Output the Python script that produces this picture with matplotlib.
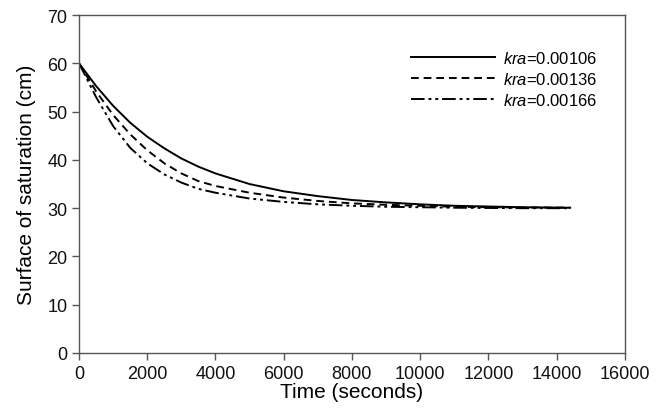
import numpy as np
import matplotlib
matplotlib.use("Agg")
import matplotlib.pyplot as plt

plt.rcParams['font.family'] = ['Liberation Sans', 'DejaVu Sans']
plt.rcParams['mathtext.fontset'] = 'custom'
plt.rcParams['mathtext.rm'] = 'Liberation Sans'
plt.rcParams['mathtext.it'] = 'Liberation Sans:italic'

# time (s) and water table height (cm)
t = [0, 500, 1000, 1500, 2000, 2500, 3000, 3500, 4000, 5000, 6000, 7000,
     8000, 9000, 10000, 11000, 12000, 13000, 14400]
h_106 = [60, 55.3, 51.2, 47.7, 44.8, 42.4, 40.3, 38.6, 37.2, 35.0, 33.5, 32.5,
         31.7, 31.2, 30.8, 30.5, 30.35, 30.2, 30.1]
h_136 = [60, 54.2, 49.3, 45.3, 42.0, 39.3, 37.2, 35.6, 34.6, 33.2, 32.2, 31.5,
         31.0, 30.7, 30.5, 30.3, 30.2, 30.15, 30.1]
h_166 = [60, 53.0, 47.0, 42.5, 39.3, 37.0, 35.3, 34.0, 33.2, 32.0, 31.3, 30.8,
         30.5, 30.3, 30.2, 30.1, 30.05, 30.0, 30.0]
labels = [r'$kra$=0.00106', r'$kra$=0.00136', r'$kra$=0.00166']

fig = plt.figure(figsize=(6.59, 4.14), dpi=100)
ax = fig.add_axes([0.12, 0.145, 0.828, 0.816])

ax.plot(t, h_106, color='black', lw=1.4, ls='-', label=labels[0])
ax.plot(t, h_136, color='black', lw=1.4, ls=(0, (4, 2.5)), label=labels[1])
ax.plot(t, h_166, color='black', lw=1.4, ls=(0, (7, 2, 1.5, 2, 1.5, 2)), label=labels[2])

ax.set_xlim(0, 16000)
ax.set_ylim(0, 70)
ax.set_xticks(np.arange(0, 16001, 2000))
ax.set_yticks(np.arange(0, 71, 10))
ax.set_xlabel('Time (seconds)', fontsize=15, labelpad=0)
ax.set_ylabel('Surface of saturation (cm)', fontsize=15, labelpad=8)

for s in ax.spines.values():
    s.set_color('#555555')
    s.set_linewidth(1.0)
ax.tick_params(direction='out', length=5, width=1, colors='#555555',
               labelcolor='#111111', labelsize=13)

ax.legend(loc='upper right', frameon=False, fontsize=12, handlelength=5.0,
          bbox_to_anchor=(0.977, 0.942), labelspacing=0.3, handletextpad=0.5)

fig.savefig('out.png', dpi=100)
